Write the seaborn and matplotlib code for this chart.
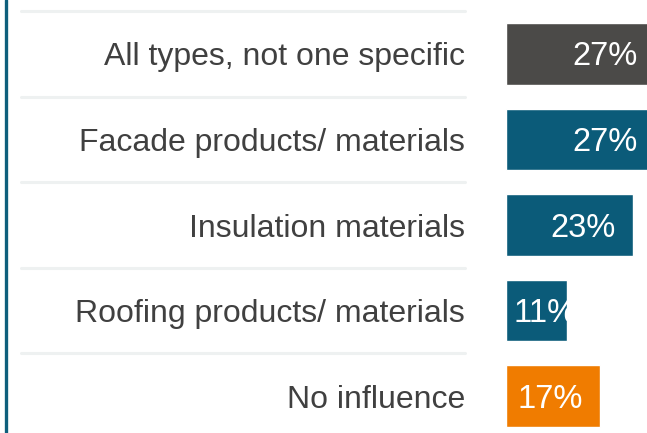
import matplotlib
matplotlib.use("Agg")
import matplotlib.pyplot as plt
import seaborn as sns
from matplotlib.lines import Line2D

categories = ["All types, not one specific", "Facade products/ materials",
              "Insulation materials", "Roofing products/ materials", "No influence"]
values = [27, 27, 23, 11, 17]
bar_colors = ["#4b4a48", "#0b5b79", "#0b5b79", "#0b5b79", "#f07c00"]


def main():
    sns.set_theme(style="white")
    plt.rcParams['font.family'] = ['Liberation Sans', 'DejaVu Sans']

    fig = plt.figure(figsize=(6.47, 4.33), dpi=100)
    ax = fig.add_axes([506 / 647, 0, 141 / 647, 1])

    sns.barplot(x=values, y=categories, hue=categories, palette=bar_colors,
                orient="h", width=0.72, legend=False, saturation=1, ax=ax)

    ax.set_xlim(0, 25.6)
    ax.set_ylim(4.43, -0.63)
    ax.set_xlabel("")
    ax.set_ylabel("")
    ax.set_xticks([])
    sns.despine(ax=ax, left=True, bottom=True)
    ax.tick_params(axis="y", length=0, pad=29.5, labelsize=23, labelcolor="#404040")

    # separators between rows
    for i in range(len(categories)):
        ax.axhline(i - 0.5, xmin=(21 - 506) / 141, xmax=(465 - 506) / 141,
                   color="#eef1f1", lw=2.2, clip_on=False, zorder=0)

    # value labels, cap height centred on the bar
    off = 0.135
    for i, v in enumerate(values):
        if v < 14:
            ax.text(1.3, i + off, f"{v}%", ha="left", va="baseline", color="white",
                    fontsize=23.5, clip_on=False)
        else:
            ax.text(v - 3.1, i + off, f"{v}%", ha="right", va="baseline", color="white",
                    fontsize=23.5)

    # left accent line
    fig.add_artist(Line2D([5.5 / 647, 5.5 / 647], [0, 1], color="#0e5f7c", lw=2.4,
                          transform=fig.transFigure))

    fig.savefig("out.png", dpi=100)


if __name__ == "__main__":
    main()
